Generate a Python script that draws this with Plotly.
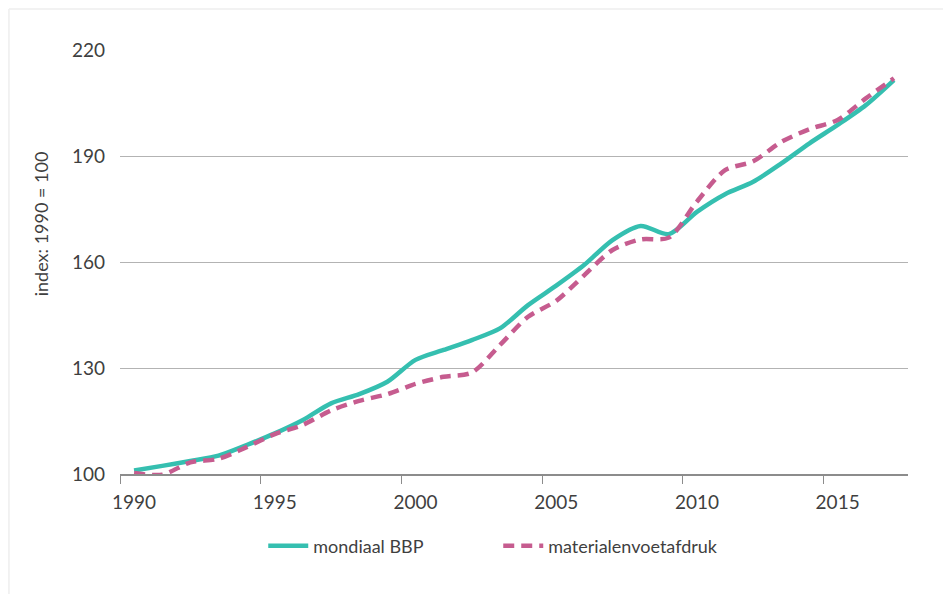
import plotly.graph_objects as go

years = list(range(1990, 2018))
bbp = [101.0, 102.3, 103.7, 105.2, 108.2, 111.5, 115.3, 120.0, 122.6, 126.1,
       132.3, 135.1, 137.9, 141.2, 147.8, 153.3, 159.2, 166.2, 170.2, 167.9,
       174.2, 179.2, 182.7, 187.9, 193.6, 198.8, 204.4, 211.5]
material = [100.3, 99.8, 103.3, 104.3, 107.6, 111.3, 113.9, 118.0, 120.7, 122.6,
            125.5, 127.5, 128.7, 136.5, 144.5, 149.0, 156.3, 163.4, 166.4, 166.9,
            177.1, 186.0, 188.5, 194.0, 197.6, 200.2, 206.3, 212.0]
x_labels = [1990, 1995, 2000, 2005, 2010, 2015]
y_ticks = [100, 130, 160, 190, 220]

FONT = "Lato, 'Open Sans', sans-serif"
TXT = "#3f3f3f"

fig = go.Figure()
fig.add_trace(go.Scatter(
    x=years, y=bbp, mode="lines", name="mondiaal BBP",
    line=dict(color="#35BFB0", width=4.5, shape="spline", smoothing=0.8),
))
fig.add_trace(go.Scatter(
    x=years, y=material, mode="lines", name="materialenvoetafdruk",
    line=dict(color="#C65C8F", width=4.5, shape="spline", smoothing=0.8, dash="11px,7px"),
))

fig.update_layout(
    width=943, height=586,
    margin=dict(l=112, r=43, t=42, b=120),
    paper_bgcolor="white", plot_bgcolor="white",
    font=dict(family=FONT, color=TXT, size=18),
    showlegend=True,
    legend=dict(orientation="h", x=0.48, xanchor="center", y=-0.17, yanchor="middle",
                font=dict(size=18, color=TXT), entrywidth=180, itemwidth=40),
    xaxis=dict(range=[years[0] - 0.5, years[-1] + 0.5], tickvals=x_labels,
               ticks="outside", ticklen=10, tickcolor="rgba(0,0,0,0)", tickangle=0,
               minor=dict(tickvals=[v - 0.5 for v in x_labels], ticks="outside",
                          ticklen=8, tickcolor="#8c8c8c", tickwidth=1.2, showgrid=False),
               showline=True, linecolor="#8c8c8c", linewidth=1.5, zeroline=False,
               showgrid=False, tickfont=dict(size=19, color=TXT)),
    yaxis=dict(range=[100, 220], tickvals=y_ticks, showgrid=True, gridcolor="#b3b3b3",
               gridwidth=1.2, zeroline=False, showline=False, ticks="",
               ticklabelstandoff=14, tickfont=dict(size=19, color=TXT)),
    shapes=[
        dict(type="line", xref="paper", yref="paper", x0=-0.1409, x1=1.1, y0=1.0967, y1=1.0967,
             line=dict(color="#eeeeee", width=1.5)),
        dict(type="line", xref="paper", yref="paper", x0=-0.1409, x1=-0.1409, y0=1.0967, y1=-0.3,
             line=dict(color="#eeeeee", width=1.5)),
    ],
    annotations=[dict(text="index: 1990 = 100", xref="paper", yref="paper",
                      x=-0.101, y=0.59, textangle=-90, showarrow=False,
                      font=dict(size=18, color=TXT), xanchor="center", yanchor="middle")],
)

fig.write_html("out.html")
